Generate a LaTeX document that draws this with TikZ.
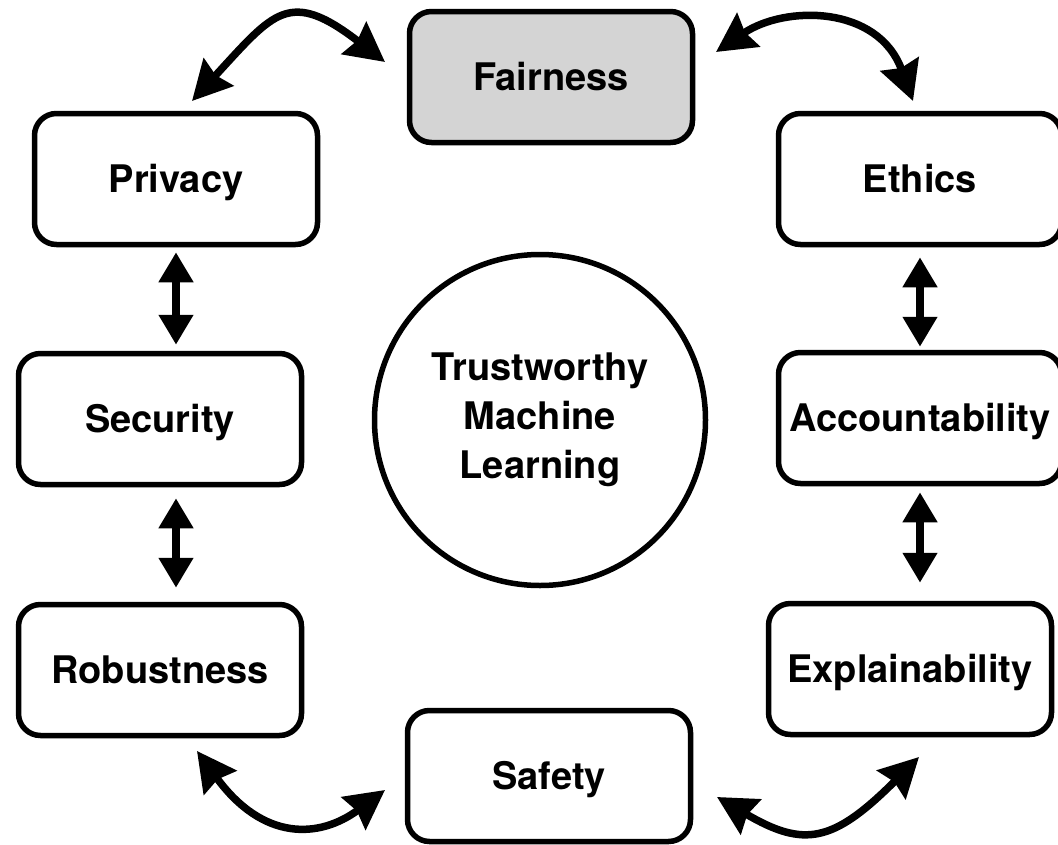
\documentclass[tikz,border=0pt]{standalone}
\usepackage{fontspec}
\setmainfont{TeX Gyre Heros}
\usetikzlibrary{arrows.meta,calc}
\definecolor{fairgray}{RGB}{212,212,212}
\begin{document}
\begin{tikzpicture}[x=1pt,y=-1pt,
  box/.style={draw, line width=5.5pt, rounded corners=22pt, minimum width=283pt,
    minimum height=131pt, inner sep=0pt, outer sep=2.75pt, text height=27pt, text depth=0pt,
    font=\fontsize{38}{46}\selectfont\bfseries},
  hub/.style={draw, circle, line width=5.5pt, minimum size=331pt, inner sep=0pt,
    outer sep=2.75pt, align=center, font=\fontsize{38}{49}\selectfont\bfseries},
  varrow/.style={line width=8pt, {Triangle[length=30pt,width=33pt]}-{Triangle[length=30pt,width=33pt]}},
  carrow/.style={line width=7.5pt, {Stealth[length=39pt,width=40pt,inset=4pt]}-{Stealth[length=39pt,width=40pt,inset=4pt]}}
]
\useasboundingbox (0,0) rectangle (1058,844);
\node[box, fill=fairgray] (fair) at (551,77) {Fairness};
\node[box] (priv) at (176,179) {Privacy};
\node[box] (eth) at (920,179) {Ethics};
\node[box] (sec) at (160,419) {Security};
\node[box] (acc) at (920,418) {Accountability};
\node[box] (rob) at (160,670) {Robustness};
\node[box] (expl) at (910,669) {Explainability};
\node[box] (safe) at (549,776) {Safety};
\node[hub] (tml) at (540,420) {Trustworthy\\Machine\\Learning};

% vertical connectors
\draw[varrow, shorten <=5pt, shorten >=6pt] (priv.south) -- (priv.south |- sec.north);
\draw[varrow, shorten <=11pt, shorten >=14pt] (priv.south |- sec.south) -- (priv.south |- rob.north);
\draw[varrow, shorten <=10pt, shorten >=3pt] (eth.south) -- (eth.south |- acc.north);
\draw[varrow, shorten <=6pt, shorten >=18pt] (acc.south) -- (acc.south |- expl.north);

% curved connectors
\coordinate (tla) at (385,62);
\coordinate (tlb) at (192,101);
\coordinate (tra) at (716,52);
\coordinate (trb) at (913,101);
\coordinate (bla) at (197,751);
\coordinate (blb) at (385,790);
\coordinate (bra) at (717,797);
\coordinate (brb) at (919,757);
\draw[carrow] (tla) .. controls (289,-12) and (274,12) .. (tlb);
\draw[carrow] (tra) .. controls (785,5) and (878,5) .. (trb);
\draw[carrow] (bla) .. controls (263,841) and (319,839) .. (blb);
\draw[carrow] (bra) .. controls (804,848) and (833,843) .. (brb);
\end{tikzpicture}
\end{document}
